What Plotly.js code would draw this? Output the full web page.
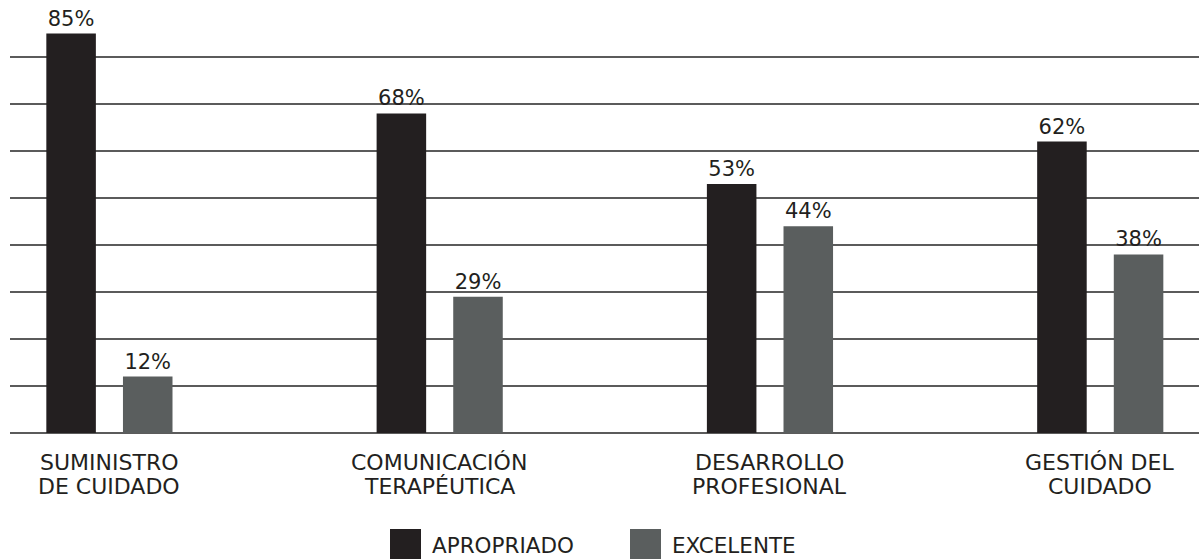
<!DOCTYPE html>
<html>
<head>
<meta charset="utf-8">
<script src="https://cdn.plot.ly/plotly-3.0.1.min.js"></script>
<style>html,body{margin:0;padding:0;background:#fff;}#chart{width:1199px;height:560px;}</style>
</head>
<body>
<div id="chart"></div>
<script>
const categories = ["SUMINISTRO<br>DE CUIDADO", "COMUNICACIÓN<br>TERAPÉUTICA", "DESARROLLO<br>PROFESIONAL", "GESTIÓN DEL<br>CUIDADO"];
const seriesNames = ["APROPRIADO", "EXCELENTE"];
const apropriado = [85, 68, 53, 62];
const excelente = [12, 29, 44, 38];
const colors = ["#231f20", "#5a5e5e"];

const W = 1199, H = 560;
const M = {l: 10, r: 0, t: 10, b: 127};
const font = "DejaVu Sans, Verdana, sans-serif";
const textColor = "#231f20";
const idx = categories.map((c, i) => i);

function mkTrace(name, vals, color, offset) {
  return {
    type: "bar", name: name, x: idx, y: vals,
    width: 0.15, offset: offset,
    marker: {color: color, line: {width: 0}},
    text: vals.map(v => v + "%"), textposition: "outside",
    textfont: {family: font, size: 21, color: textColor},
    cliponaxis: false, showlegend: false, hoverinfo: "skip"
  };
}
const traces = [
  mkTrace(seriesNames[0], apropriado, colors[0], -0.19),
  mkTrace(seriesNames[1], excelente, colors[1], 0.042)
];

const pw = W - M.l - M.r, ph = H - M.t - M.b;
const px = x => (x - M.l) / pw;
const py = y => (H - M.b - y) / ph;

const annotations = [];
// category labels, two lines each
categories.forEach((c, i) => {
  c.split("<br>").forEach((line, j) => {
    annotations.push({
      xref: "x", yref: "paper", x: i, y: py(462.5 + j * 24),
      xanchor: "center", yanchor: "middle", showarrow: false,
      text: line, font: {family: font, size: 22, color: textColor}
    });
  });
});

const legendItems = [{x: 390, tx: 430}, {x: 630, tx: 670}];
const shapes = legendItems.map((it, i) => ({
  type: "rect", xref: "paper", yref: "paper",
  x0: px(it.x), x1: px(it.x + 31), y0: py(559), y1: py(529),
  fillcolor: colors[i], line: {width: 0}
}));
legendItems.forEach((it, i) => annotations.push({
  xref: "paper", yref: "paper", x: px(it.tx), y: py(545),
  xanchor: "left", yanchor: "middle", showarrow: false,
  text: seriesNames[i], font: {family: font, size: 21.5, color: textColor}
}));

const layout = {
  width: W, height: H, margin: M,
  paper_bgcolor: "#fff", plot_bgcolor: "#fff",
  xaxis: {
    range: [-0.3, 3.3], tickmode: "array", tickvals: idx, ticktext: categories,
    showticklabels: false,
    showgrid: false, zeroline: false, showline: false, ticks: ""
  },
  yaxis: {
    range: [0, 90], dtick: 10, showticklabels: false, ticks: "",
    showgrid: true, gridcolor: "#5b5b5b", gridwidth: 1.6,
    zeroline: true, zerolinecolor: "#5b5b5b", zerolinewidth: 1.6, showline: false
  },
  shapes: shapes, annotations: annotations, showlegend: false
};
Plotly.newPlot("chart", traces, layout, {displayModeBar: false, staticPlot: true});
</script>
</body>
</html>
